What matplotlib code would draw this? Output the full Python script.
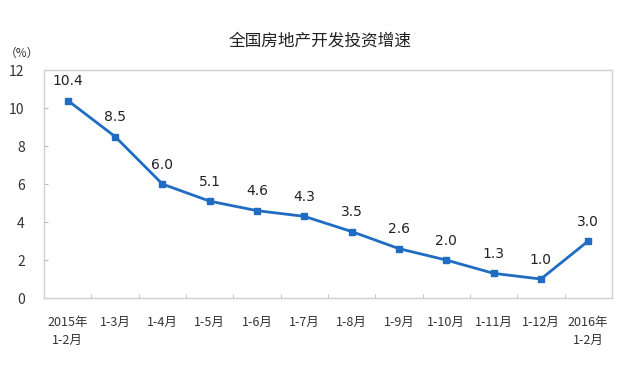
import matplotlib
matplotlib.use('Agg')
import numpy as np
import matplotlib.pyplot as plt

plt.rcParams['font.family'] = ['Noto Sans CJK SC', 'DejaVu Sans']

# 数据
categories = ['2015年\n1-2月', '1-3月', '1-4月', '1-5月', '1-6月', '1-7月',
              '1-8月', '1-9月', '1-10月', '1-11月', '1-12月', '2016年\n1-2月']
growth = [10.4, 8.5, 6.0, 5.1, 4.6, 4.3, 3.5, 2.6, 2.0, 1.3, 1.0, 3.0]
labels = ['10.4', '8.5', '6.0', '5.1', '4.6', '4.3', '3.5', '2.6', '2.0', '1.3', '1.0', '3.0']

fig = plt.figure(figsize=(6.4, 3.73), dpi=100)
ax = fig.add_axes([0.069, 0.201, 0.887, 0.611])

x = np.arange(len(categories))
ax.plot(x, growth, color='#1f6cc2', linewidth=2, marker='s', markersize=5)

for xi, yi, lab in zip(x, growth, labels):
    ax.annotate(lab, (xi, yi), xytext=(0, 9), textcoords='offset points',
                ha='center', va='bottom', fontsize=10, color='#222222',
                family=['DejaVu Sans'])

ax.set_xlim(-0.5, len(categories) - 0.5)
ax.set_ylim(0, 12)
ax.set_yticks(range(0, 13, 2))
ax.set_xticks(x)
ax.set_xticklabels(categories, fontsize=9, color='#333333', linespacing=1.5)
ax.set_xticks(np.arange(0.5, len(categories) - 0.5), minor=True)
ax.tick_params(axis='x', which='major', length=0, pad=13)
ax.tick_params(axis='x', which='minor', direction='in', length=3, color='#bbbbbb')
ax.tick_params(axis='y', direction='in', length=3, color='#bbbbbb', labelsize=10,
               labelcolor='#333333', pad=14)

for s in ax.spines.values():
    s.set_color('#d0d0d0')
    s.set_linewidth(1)

fig.text(0.5, 0.89, '全国房地产开发投资增速', ha='center', va='center', fontsize=12, color='#222222')
fig.text(0.035, 0.858, '（%）', ha='center', va='center', fontsize=8.5, color='#333333')

fig.savefig('out.png', dpi=100, facecolor='white')
